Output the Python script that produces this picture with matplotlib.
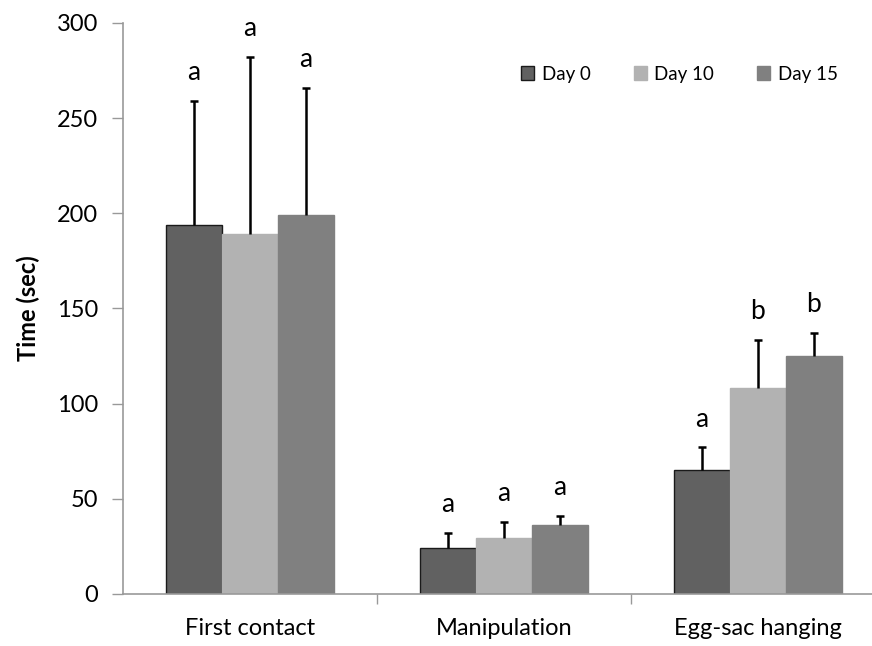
import numpy as np
import matplotlib
matplotlib.use('Agg')
import matplotlib.pyplot as plt

plt.rcParams['font.family'] = ['Lato', 'DejaVu Sans']

# data
categories = ['First contact', 'Manipulation', 'Egg-sac hanging']
series = ['Day 0', 'Day 10', 'Day 15']
means = {
    'Day 0': [194, 24, 65],
    'Day 10': [189, 29.5, 108],
    'Day 15': [199, 36.5, 125],
}
errors = {
    'Day 0': [65, 8, 12],
    'Day 10': [93, 8.5, 25.5],
    'Day 15': [67, 4.5, 12],
}
letters = {
    'Day 0': ['a', 'a', 'a'],
    'Day 10': ['a', 'a', 'b'],
    'Day 15': ['a', 'a', 'b'],
}
colors = {'Day 0': '#616161', 'Day 10': '#b2b2b2', 'Day 15': '#808080'}
edges = {'Day 0': '#1a1a1a', 'Day 10': '#b2b2b2', 'Day 15': '#808080'}

fig = plt.figure(figsize=(8.72, 6.46), dpi=100)
ax = fig.add_axes([123 / 872, 52 / 646, 762 / 872, 571 / 646])

x = np.arange(len(categories))
width = 0.22
for i, s in enumerate(series):
    pos = x + (i - 1) * width
    ax.bar(pos, means[s], width, color=colors[s], edgecolor=edges[s],
           linewidth=1.0, label=s, zorder=2)
    eb = ax.errorbar(pos, means[s], yerr=[np.zeros(3), errors[s]], fmt='none',
                     ecolor='black', elinewidth=1.8, capsize=3, capthick=1.8, zorder=3)
    eb[1][0].set_visible(False)  # no cap at the bar top
    for p, m, e, t in zip(pos, means[s], errors[s], letters[s]):
        ax.annotate(t, (p, m + e), xytext=(0, 15), textcoords='offset points',
                    ha='center', va='baseline', fontsize=19)

ax.set_xlim(-0.5, 2.5)
ax.set_ylim(0, 300)
ax.set_yticks(range(0, 301, 50))
ax.set_xticks(x)
ax.set_xticklabels(categories, fontsize=17)
ax.set_xticks([0.5, 1.5], minor=True)
ax.tick_params(axis='x', which='major', length=0, pad=17)
ax.tick_params(axis='x', which='minor', length=7, color='#999999', width=1)
ax.tick_params(axis='y', length=8, color='#999999', width=1, labelsize=17, pad=10)

for side in ['top', 'right']:
    ax.spines[side].set_visible(False)
for side in ['left', 'bottom']:
    ax.spines[side].set_color('#999999')
    ax.spines[side].set_linewidth(1.2)

ax.set_ylabel('Time (sec)', fontsize=17, fontweight='bold', labelpad=12)

ax.legend(loc='upper left', bbox_to_anchor=(0.5, 0.955), ncol=3, frameon=False,
          fontsize=13.5, handlelength=0.7, handleheight=0.7, handletextpad=0.4,
          columnspacing=2.3)

fig.savefig('out.png', dpi=100)
